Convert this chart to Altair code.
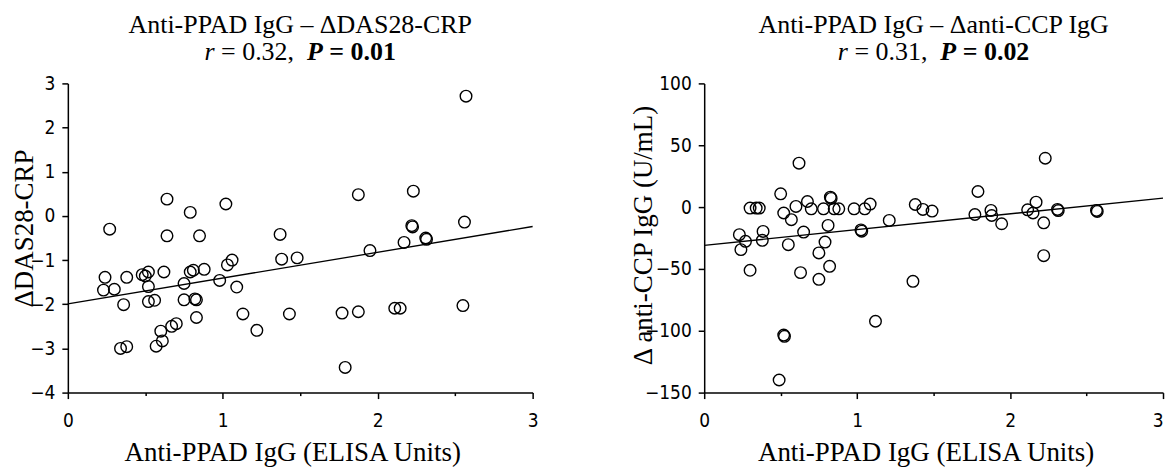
import altair as alt
import pandas as pd

# ---------------- data ----------------
left_x = [0.23, 0.24, 0.27, 0.30, 0.34, 0.36, 0.38, 0.38, 0.48, 0.50, 0.52, 0.52, 0.52,
          0.56, 0.57, 0.60, 0.61, 0.62, 0.64, 0.64, 0.67, 0.70, 0.75, 0.75, 0.79, 0.79,
          0.81, 0.82, 0.83, 0.83, 0.85, 0.88, 0.98, 1.02, 1.03, 1.06, 1.09, 1.13, 1.22,
          1.37, 1.38, 1.43, 1.48, 1.77, 1.79, 1.875, 1.875, 1.95, 2.11, 2.145, 2.17,
          2.22, 2.225, 2.23, 2.31, 2.315, 2.55, 2.56, 2.57]
left_y = [-1.68, -1.39, -0.30, -1.66, -3.00, -2.01, -1.39, -2.96, -1.33, -1.36, -1.27,
          -1.60, -1.94, -1.91, -2.95, -2.61, -2.83, -1.27, 0.38, -0.45, -2.50, -2.44,
          -1.53, -1.90, 0.08, -1.27, -1.23, -1.88, -1.90, -2.30, -0.45, -1.21, -1.46,
          0.27, -1.11, -1.00, -1.61, -2.22, -2.59, -0.42, -0.98, -2.22, -0.95, -2.20,
          -3.43, 0.48, -2.17, -0.785, -2.09, -2.09, -0.60, -0.22, -0.25, 0.56, -0.50,
          -0.53, -2.03, -0.14, 2.71]

right_x = [0.23, 0.24, 0.27, 0.30, 0.30, 0.34, 0.36, 0.38, 0.385, 0.49, 0.50, 0.52, 0.52,
           0.525, 0.55, 0.57, 0.60, 0.62, 0.63, 0.65, 0.675, 0.70, 0.75, 0.75, 0.78, 0.79,
           0.81, 0.82, 0.825, 0.83, 0.85, 0.88, 0.98, 1.025, 1.03, 1.05, 1.085, 1.12,
           1.21, 1.365, 1.38, 1.43, 1.49, 1.77, 1.79, 1.875, 1.88, 1.945, 2.115, 2.15,
           2.17, 2.22, 2.22, 2.23, 2.31, 2.315, 2.565, 2.57]
right_y = [-22.3, -34.4, -27.7, -51.1, -0.8, -0.8, -0.8, -26.9, -19.7, -139.8, 10.7, -4.8,
           -103.5, -104.5, -30.4, -10.2, 0.5, 35.5, -53.0, -20.2, 4.5, -1.4, -37.1, -58.4,
           -1.4, -28.3, -14.8, -47.9, 8.0, 7.0, -1.4, -1.4, -1.4, -18.5, -19.5, -1.4, 2.4,
           -92.3, -10.8, -60.0, 2.1, -1.9, -3.2, -6.0, 12.6, -2.7, -6.8, -13.5, -2.2, -4.8,
           4.0, -12.7, -39.3, 39.5, -1.9, -2.8, -2.7, -3.5]

fit_x = [0, 3]
left_fit_y = [-1.99, -0.24]
right_fit_y = [-31.0, 7.3]

x_ticks = [0, 0.5, 1, 1.5, 2, 2.5, 3]
left_y_ticks = [-4, -3.5, -3, -2.5, -2, -1.5, -1, -0.5, 0, 0.5, 1, 1.5, 2, 2.5, 3]
right_y_ticks = [-150, -125, -100, -75, -50, -25, 0, 25, 50, 75, 100]

left_title = "Anti-PPAD IgG – ΔDAS28-CRP"
right_title = "Anti-PPAD IgG –  Δanti-CCP IgG"
left_r, left_p = "= 0.32,", "= 0.01"
right_r, right_p = "= 0.31,", "= 0.02"
x_title = "Anti-PPAD IgG (ELISA Units)"
left_y_title = "ΔDAS28-CRP"
right_y_title = "Δ anti-CCP IgG  (U/mL)"

# ---------------- styling ----------------
SERIF = "Liberation Serif, Times New Roman, serif"
NARROW = "Liberation Sans Narrow, DejaVu Sans Condensed, Arial Narrow, sans-serif"
H = 310
FS = 26      # chart titles
AFS = 27     # axis titles


def text_layer(txt, x, y, align="left", style="normal", weight="normal"):
    return alt.Chart(pd.DataFrame({"t": [txt]})).mark_text(
        font=SERIF, fontSize=FS, fontStyle=style, fontWeight=weight,
        align=align, baseline="alphabetic", color="black"
    ).encode(x=alt.value(x), y=alt.value(y), text="t:N")


def panel(xs, ys, fit_y, ydom, yticks, major, ytitle, ytx, yty,
          title1, rtxt, ptxt, xtx, width, flush_last):
    pts = pd.DataFrame({"x": xs, "y": ys})
    fit = pd.DataFrame({"x": fit_x, "y": fit_y})
    xscale = alt.Scale(domain=[0, 3], nice=False, zero=False)
    yscale = alt.Scale(domain=ydom, nice=False, zero=False)
    xaxis_args = dict(
        values=x_ticks,
        labelExpr="datum.value % 1 === 0 ? format(datum.value, 'd') : ''",
        tickSize={"condition": {"test": "datum.value % 1 !== 0", "value": 3}, "value": 6},
        labelPadding=13, labelFlush=False,
        title=x_title, titleX=xtx, titleY=68, titleAlign="center",
        titleBaseline="alphabetic", titleAngle=0,
    )
    if flush_last:
        xaxis_args["labelAlign"] = {"condition": {"test": "datum.value === 3", "value": "right"},
                                    "value": "center"}
    xaxis = alt.Axis(**xaxis_args)
    yaxis = alt.Axis(
        values=yticks,
        labelExpr=f"datum.value % {major} === 0 ? format(datum.value, 'd') : ''",
        tickSize={"condition": {"test": f"datum.value % {major} !== 0", "value": 3}, "value": 6},
        labelPadding=7,
        title=ytitle, titleX=ytx, titleY=yty, titleAngle=270, titleAlign="center",
        titleBaseline="middle",
    )
    points = alt.Chart(pts).mark_point(
        shape="circle", filled=False, size=135, stroke="black", strokeWidth=1.4, opacity=1
    ).encode(x=alt.X("x:Q", scale=xscale, axis=xaxis), y=alt.Y("y:Q", scale=yscale, axis=yaxis))
    line = alt.Chart(fit).mark_line(color="black", strokeWidth=1.3).encode(
        x=alt.X("x:Q", scale=xscale), y=alt.Y("y:Q", scale=yscale))

    em = FS
    c = width / 2
    total = 7.384 * em
    s = c - total / 2
    y1, y2 = -51, -23
    layers = [
        points, line,
        text_layer(title1, c, y1, align="center"),
        text_layer("r", s, y2, style="italic"),
        text_layer(rtxt, s + 0.639 * em, y2),
        text_layer("P", s + 3.953 * em, y2, style="italic", weight="bold"),
        text_layer(ptxt, s + 4.814 * em, y2, weight="bold"),
    ]
    return alt.layer(*layers).properties(width=width, height=H)


left = panel(left_x, left_y, left_fit_y, [-4, 3], left_y_ticks, 1, left_y_title,
             -43, 145, left_title, left_r, left_p, 225, 466, False)
right = panel(right_x, right_y, right_fit_y, [-150, 100], right_y_ticks, 50, right_y_title,
              -61, 152, right_title, right_r, right_p, 222, 460, True)

chart = alt.hconcat(left, right, spacing=91).properties(
    padding={"left": 3, "top": 3, "right": 0, "bottom": 1}
).configure_view(stroke=None).configure_axis(
    grid=False, domainColor="black", domainWidth=1.5, tickColor="black", tickWidth=1.5,
    labelFont=NARROW, labelFontSize=19, labelColor="black",
    titleFont=SERIF, titleFontSize=AFS, titleFontWeight="normal", titleColor="black",
)

chart.save("out.html", embed_options={"renderer": "svg", "actions": False})
